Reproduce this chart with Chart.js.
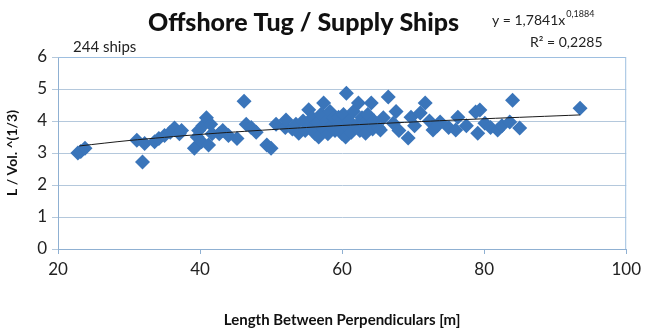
<!DOCTYPE html>
<html>
<head>
<meta charset="utf-8">
<script src="https://cdn.jsdelivr.net/npm/chart.js@4"></script>
<style>
  html, body { margin: 0; padding: 0; background: #fff; }
  #wrap { width: 646px; height: 333px; }
</style>
</head>
<body>
<div id="wrap"><canvas id="shipChart" width="646" height="333"></canvas></div>
<script>
// ships: [Lpp (m), L / Vol^(1/3)]
const shipsLeft = [
    [22.8, 3.0], [23.2, 3.05], [23.8, 3.15],
    [31.1, 3.4], [31.9, 2.72], [32.2, 3.3], [33.6, 3.35], [34.2, 3.45], [35, 3.55],
    [35.8, 3.65], [36.4, 3.78], [37.1, 3.6], [37.4, 3.7],
    [39.2, 3.15], [39.6, 3.5], [39.8, 3.7], [40.2, 3.35], [40.4, 3.85], [40.9, 4.1],
    [41.2, 3.25], [41.5, 3.9], [41.7, 3.6], [42.7, 3.6], [43.2, 3.7], [44, 3.55],
    [45.2, 3.45], [46.2, 4.62], [46.5, 3.9], [47.2, 3.8], [47.9, 3.65], [49.4, 3.25],
    [50, 3.15], [50.7, 3.9], [52, 3.8], [52.1, 4.03]
];
const shipsMiddle = [
    [53, 3.75], [53.5, 3.9], [53.9, 3.62], [54.5, 4.0], [54.8, 3.7], [55.3, 4.35],
    [55.5, 3.85], [55.8, 4.1], [56.2, 3.6], [56.5, 3.95], [56.7, 3.5], [57, 4.2],
    [57.4, 4.56], [57.5, 3.75], [57.8, 4.0], [58, 3.6], [58.3, 4.3], [58.5, 3.85],
    [58.8, 4.1], [59, 3.7], [59.5, 4.12], [59.7, 3.95], [60, 3.6], [60.2, 4.2],
    [60.5, 3.5], [60.6, 4.87], [60.8, 3.8], [61, 4.0], [61.3, 3.65], [61.6, 4.3],
    [62, 3.85], [62.3, 4.56], [62.5, 3.7], [62.8, 4.1], [63, 3.9], [63.3, 3.62],
    [63.6, 4.2], [64.1, 4.56], [64.3, 3.75], [64.5, 4.0], [65.1, 3.8], [65.4, 3.72],
    [65.8, 4.1]
];
const shipsRight = [
    [66.5, 4.75], [67.2, 3.93], [67.6, 4.3], [68, 3.7], [69.3, 3.47], [69.7, 4.12],
    [70.2, 3.85], [71, 4.25], [71.7, 4.56], [72.3, 4.0], [72.8, 3.72], [73.4, 3.85],
    [73.8, 3.97], [75, 3.8], [76, 3.72], [76.3, 4.12], [77.5, 3.85], [78.8, 4.28],
    [79.1, 3.62], [79.4, 4.34], [80.1, 3.93], [80.9, 3.8], [81.9, 3.72], [82.5, 3.85],
    [83.6, 3.97], [84, 4.65], [85, 3.78], [93.5, 4.4]
];
// power trendline
const trendX = [23, 30, 40, 50, 60, 70, 80, 93.5];
const trendY = [3.22, 3.39, 3.58, 3.73, 3.86, 3.97, 4.07, 4.19];

const xTicks = [20, 40, 60, 80, 100];
const yTicks = [0, 1, 2, 3, 4, 5, 6];

const titleText = 'Offshore Tug / Supply Ships';
const countText = '244 ships';
const eqMain = 'y = 1,7841x';
const eqExp = '0,1884';
const r2Text = 'R\u00b2 = 0,2285';

const toPoints = arr => arr.map(p => ({ x: p[0], y: p[1] }));
const allShips = toPoints(shipsLeft.concat(shipsMiddle, shipsRight));
const trendPoints = trendX.map((x, i) => ({ x: x, y: trendY[i] }));

const FONT = 'Lato, "Open Sans", sans-serif';

const textPlugin = {
    id: 'texts',
    afterDraw(chart) {
        const ctx = chart.ctx;
        const area = chart.chartArea;
        ctx.save();
        // plot area border (top and right)
        ctx.strokeStyle = '#9ebfe0';
        ctx.lineWidth = 1;
        ctx.beginPath();
        ctx.moveTo(area.left, area.top + 0.5);
        ctx.lineTo(area.right - 0.5, area.top + 0.5);
        ctx.lineTo(area.right - 0.5, area.bottom);
        ctx.stroke();

        ctx.fillStyle = '#111';
        ctx.textBaseline = 'alphabetic';
        ctx.textAlign = 'left';
        ctx.font = '900 25px ' + FONT;
        ctx.fillText(titleText, 148, 31);

        ctx.fillStyle = '#222';
        ctx.font = '15px ' + FONT;
        ctx.fillText(countText, 73, 52);

        ctx.font = '14px ' + FONT;
        ctx.fillText(eqMain, 492, 25);
        const w = ctx.measureText(eqMain).width;
        ctx.font = '9px ' + FONT;
        ctx.fillText(eqExp, 492 + w + 1, 17);
        ctx.font = '14px ' + FONT;
        ctx.fillText(r2Text, 530, 47);
        ctx.restore();
    }
};

new Chart(document.getElementById('shipChart').getContext('2d'), {
    type: 'scatter',
    data: {
        datasets: [{
            label: 'Ships',
            data: allShips,
            pointStyle: 'rectRot',
            pointRadius: 7.5,
            pointHoverRadius: 7.5,
            backgroundColor: '#3a75ba',
            borderColor: '#3a75ba',
            borderWidth: 0,
            order: 2
        }, {
            type: 'line',
            label: 'Trend',
            data: trendPoints,
            borderColor: '#1a1a1a',
            borderWidth: 1,
            pointRadius: 0,
            fill: false,
            tension: 0.3,
            order: 1
        }]
    },
    options: {
        responsive: false,
        animation: false,
        layout: { padding: { top: 57, right: 17, left: 0, bottom: 0 } },
        plugins: {
            legend: { display: false },
            tooltip: { enabled: false },
            title: { display: false }
        },
        scales: {
            x: {
                type: 'linear',
                min: 20,
                max: 100,
                afterBuildTicks: s => { s.ticks = xTicks.map(v => ({ value: v })); },
                afterFit: s => { s.height = 84; },
                grid: { drawOnChartArea: false, drawTicks: true, tickLength: 5, color: '#8fb0d2' },
                border: { color: '#8fb0d2' },
                ticks: { color: '#222', font: { family: FONT, size: 17 }, padding: 5 },
                title: {
                    display: true,
                    text: 'Length Between Perpendiculars [m]',
                    color: '#111',
                    font: { family: FONT, size: 15, weight: 'bold' },
                    padding: { top: 20 }
                }
            },
            y: {
                min: 0,
                max: 6,
                afterBuildTicks: s => { s.ticks = yTicks.map(v => ({ value: v })); },
                afterFit: s => { s.width = 58; },
                grid: { color: '#b4c8dc', tickLength: 6, drawTicks: true },
                border: { color: '#8fb0d2' },
                ticks: { color: '#222', font: { family: FONT, size: 17 }, padding: 5 },
                title: {
                    display: true,
                    text: 'L / Vol. ^(1/3)',
                    color: '#111',
                    font: { family: FONT, size: 14, weight: 'bold' },
                    padding: { top: 4, bottom: 0 }
                }
            }
        }
    },
    plugins: [textPlugin]
});
</script>
</body>
</html>
